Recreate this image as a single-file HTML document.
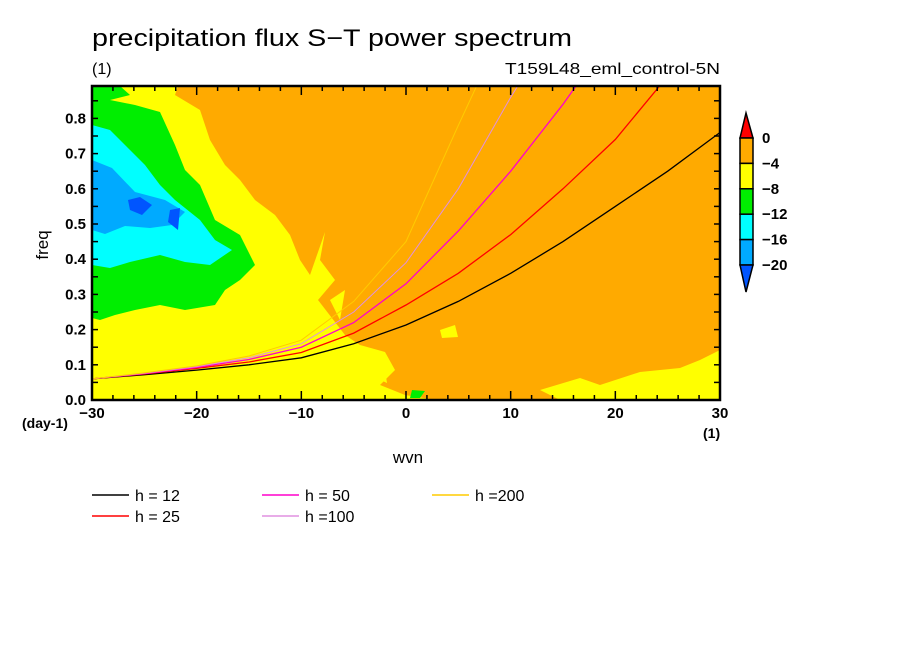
<!DOCTYPE html>
<html><head><meta charset="utf-8"><style>
html,body{margin:0;padding:0;background:#fff;width:904px;height:654px;overflow:hidden}
svg text{font-family:"Liberation Sans",sans-serif;fill:#000}
</style></head><body>
<svg id="chart" width="904" height="654" viewBox="0 0 904 654" xmlns="http://www.w3.org/2000/svg">
<text x="92" y="46" font-size="24" textLength="480" lengthAdjust="spacingAndGlyphs">precipitation flux S−T power spectrum</text>
<text x="92" y="74" font-size="16">(1)</text>
<text x="720" y="74" font-size="16" text-anchor="end" textLength="215" lengthAdjust="spacingAndGlyphs">T159L48_eml_control-5N</text>
<defs><clipPath id="pc"><rect x="92" y="86" width="628" height="314"/></clipPath></defs>
<g id="field" clip-path="url(#pc)">
<rect x="92" y="86" width="628" height="314" fill="#ffaa00"/>
<path fill="#ffff00" d="M92,86 L178,86 L175,95 L200,110 L210,140 L225,165 L240,180 L255,200 L275,215 L290,235 L300,260 L310,275 L325,232 L320,260 L335,280 L318,300 L345,335 L360,345 L385,352 L395,370 L380,385 L405,395 L430,399 L92,400 Z"/>
<path fill="#ffff00" d="M540,390 L580,378 L600,385 L640,372 L680,368 L700,360 L720,350 L720,400 L560,400 Z"/>
<path fill="#ffff00" d="M440,330 L455,325 L458,337 L442,338 Z M330,300 L345,290 L340,320 Z M370,375 L385,370 L387,383 Z"/>
<path fill="#00ee00" d="M92,86 L120,86 L130,95 L110,100 L135,105 L160,112 L175,145 L185,170 L200,185 L215,220 L240,235 L255,265 L240,280 L225,290 L215,305 L185,310 L160,305 L135,310 L115,315 L100,320 L92,318 Z"/>
<path fill="#00ee00" d="M412,390 L425,391 L420,398 L410,398 Z"/>
<path fill="#00ffff" d="M92,125 L110,130 L130,150 L145,165 L160,185 L175,200 L200,220 L215,240 L232,250 L210,265 L185,262 L160,255 L130,262 L110,268 L92,265 Z"/>
<path fill="#00aaff" d="M92,160 L112,168 L135,192 L165,200 L185,212 L172,225 L150,228 L125,226 L105,234 L92,230 Z"/>
<path fill="#0055ff" d="M128,200 L140,197 L152,205 L142,215 L130,210 Z M170,210 L180,208 L178,230 L168,222 Z"/>
</g>
<g id="curves" clip-path="url(#pc)" fill="none"></g>
<g id="axes"></g>
<rect x="92" y="86" width="628" height="314" fill="none" stroke="#000" stroke-width="2.5"/>
<text x="408" y="463" font-size="17" text-anchor="middle">wvn</text>
<text transform="translate(48,245) rotate(-90)" font-size="17" text-anchor="middle">freq</text>
<text x="22" y="428" font-size="14" font-weight="bold">(day-1)</text>
<text x="703" y="438" font-size="14" font-weight="bold">(1)</text>
<g id="cbar"></g>
<g id="legend"></g>
</svg>
<script>
const NS='http://www.w3.org/2000/svg';
const wvn=[-30,-25,-20,-15,-10,-5,0,5,10,15,20,25,30];
const h12=[0.06,0.072,0.085,0.1,0.12,0.16,0.213,0.28,0.36,0.45,0.55,0.65,0.76];
const h25=[0.06,0.074,0.09,0.108,0.135,0.19,0.27,0.36,0.47,0.60,0.74,0.92,1.1];
const h50=[0.06,0.075,0.093,0.115,0.15,0.22,0.33,0.48,0.65,0.84,1.05,1.3,1.5];
const h100=[0.06,0.076,0.095,0.12,0.16,0.25,0.39,0.6,0.86,1.1,1.4,1.7,2.0];
const h200=[0.06,0.077,0.097,0.125,0.17,0.28,0.45,0.78,1.1,1.4,1.7,2.0,2.4];
const seriesNames=['h = 12','h = 25','h = 50','h =100','h =200'];
const seriesColors=['#000000','#ff0000','#ff00cc','#e090e0','#ffcc00'];
const seriesVals=[h12,h25,h50,h100,h200];
const yTicks=[0.0,0.1,0.2,0.3,0.4,0.5,0.6,0.7,0.8];
const xTicks=[-30,-20,-10,0,10,20,30];
const cbLevels=['0','−4','−8','−12','−16','−20'];
const cbColors=['#ff0000','#ffaa00','#ffff00','#00ee00','#00ffff','#00aaff','#0055ff'];
const X=v=>92+(v+30)*628/60;
const Y=v=>400-v*352;
function mk(t,a,p){const e=document.createElementNS(NS,t);for(const k in a)e.setAttribute(k,a[k]);(p||document.getElementById('chart')).appendChild(e);return e;}
const cg=document.getElementById('curves');
seriesVals.forEach((s,i)=>{
 const d=s.map((v,j)=>(j?'L':'M')+X(wvn[j]).toFixed(1)+','+Y(v).toFixed(1)).join(' ');
 const p=mk('path',{d:d,stroke:seriesColors[i],'stroke-width':i>2?1:1.3},cg);
 
 
});
const ag=document.getElementById('axes');
for(let v=0;v<=0.88;v+=0.05){const y=Y(v);
 mk('line',{x1:92,x2:98,y1:y,y2:y,stroke:'#000','stroke-width':1.5},ag);
 mk('line',{x1:714,x2:720,y1:y,y2:y,stroke:'#000','stroke-width':1.5},ag);}
for(let v=-30;v<=30;v+=2){const x=X(v),L=v%10===0?9:5;
 mk('line',{x1:x,x2:x,y1:400,y2:400-L,stroke:'#000','stroke-width':1.5},ag);
 mk('line',{x1:x,x2:x,y1:86,y2:86+L,stroke:'#000','stroke-width':1.5},ag);}
yTicks.forEach(v=>{const t=mk('text',{x:86,y:Y(v)+5,'font-size':15,'font-weight':'bold','text-anchor':'end'},ag);t.textContent=v.toFixed(1);
 
 });
xTicks.forEach(v=>{const t=mk('text',{x:X(v),y:418,'font-size':15,'font-weight':'bold','text-anchor':'middle'},ag);t.textContent=(v<0?'−':'')+Math.abs(v);
 
 });
const cb=document.getElementById('cbar');
mk('polygon',{points:'746,113 740,138 753,138',fill:cbColors[0],stroke:'#000','stroke-width':1.5},cb);
for(let i=1;i<=5;i++){const r=mk('rect',{x:740,y:138+(i-1)*25.4,width:13,height:25.4,fill:cbColors[i],stroke:'#000','stroke-width':1.5},cb);
 
 }
mk('polygon',{points:'740,265 753,265 746,292',fill:cbColors[6],stroke:'#000','stroke-width':1.5},cb);
cbLevels.forEach((l,i)=>{const t=mk('text',{x:762,y:143+i*25.4,'font-size':15,'font-weight':'bold'},cb);t.textContent=l;
 
 });
const lg=document.getElementById('legend');
const pos=[[92,495],[92,516],[262,495],[262,516],[432,495]];
seriesNames.forEach((n,i)=>{const [x,y]=pos[i];
 const g=mk('g',{},lg);
 
 
 mk('line',{x1:x,x2:x+37,y1:y,y2:y,stroke:seriesColors[i],'stroke-width':1.5},g);
 const t=mk('text',{x:x+43,y:y+6,'font-size':16},g);t.textContent=n;});
</script>
</body></html>
